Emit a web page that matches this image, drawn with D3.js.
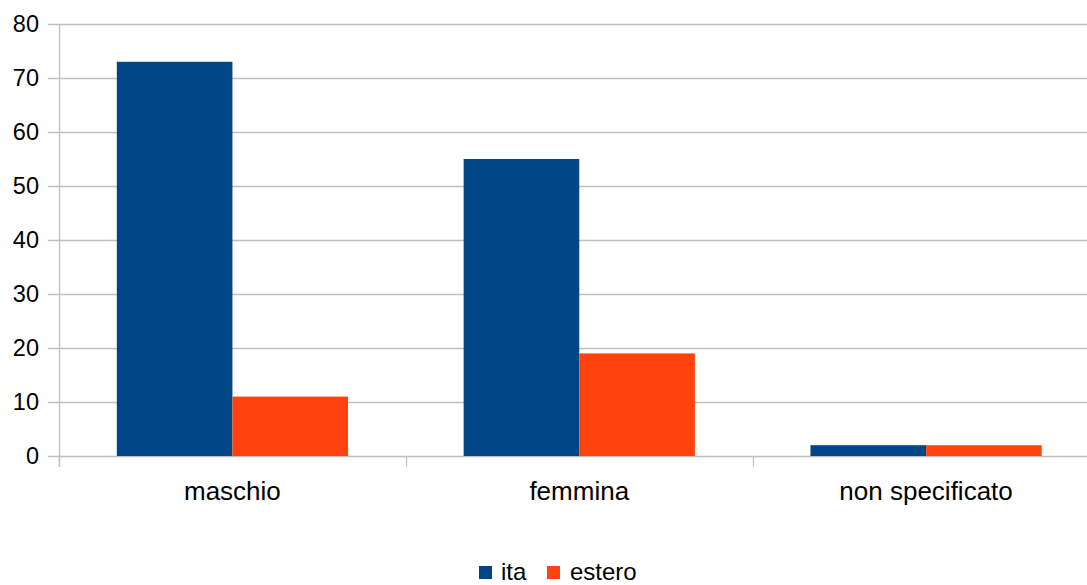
<!DOCTYPE html>
<html>
<head>
<meta charset="utf-8">
<script src="https://cdn.jsdelivr.net/npm/d3@7"></script>
<style>
  html, body { margin: 0; padding: 0; background: #fff; }
  svg { display: block; font-family: "Liberation Sans", Arial, sans-serif; }
</style>
</head>
<body>
<svg id="chart" width="1087" height="585"></svg>
<script>
// Chart data
const categories = ["maschio", "femmina", "non specificato"];
const seriesNames = ["ita", "estero"];
const itaValues = [73, 55, 2];
const esteroValues = [11, 19, 2];
const yTicks = [0, 10, 20, 30, 40, 50, 60, 70, 80];
const seriesColors = ["#004586", "#ff420e"];

const svg = d3.select("#chart");
const gridColor = "#c0c0c0";

const plotLeft = 59, plotRight = 1099.5, plotTop = 24, plotBottom = 456;

const y = d3.scaleLinear().domain([0, 80]).range([plotBottom, plotTop]);
const x0 = d3.scaleBand().domain(categories).range([plotLeft, plotRight]).paddingInner(0).paddingOuter(0);
const x1 = d3.scaleBand().domain(seriesNames).range([0, x0.bandwidth()]).paddingInner(0).paddingOuter(0.5);
const color = d3.scaleOrdinal().domain(seriesNames).range(seriesColors);

// Horizontal grid lines with short outward ticks
svg.append("g")
  .selectAll("line")
  .data(yTicks)
  .join("line")
  .attr("x1", plotLeft - 11)
  .attr("x2", 1087)
  .attr("y1", d => Math.round(y(d)) + 0.5)
  .attr("y2", d => Math.round(y(d)) + 0.5)
  .attr("stroke", gridColor)
  .attr("stroke-width", 1.3);

// Y tick labels
svg.append("g")
  .selectAll("text")
  .data(yTicks)
  .join("text")
  .attr("x", 39)
  .attr("y", d => y(d))
  .attr("dy", "0.36em")
  .attr("text-anchor", "end")
  .attr("font-size", 23.5)
  .attr("fill", "#000")
  .text(d => d);

// Vertical axis line
svg.append("line")
  .attr("x1", plotLeft + 0.5).attr("x2", plotLeft + 0.5)
  .attr("y1", plotTop).attr("y2", plotBottom + 11)
  .attr("stroke", gridColor).attr("stroke-width", 1.3);

// Category boundary ticks
const boundaries = categories.map(c => x0(c)).concat([x0(categories[categories.length - 1]) + x0.bandwidth()]);
svg.append("g")
  .selectAll("line")
  .data(boundaries)
  .join("line")
  .attr("x1", d => Math.round(d) + 0.5)
  .attr("x2", d => Math.round(d) + 0.5)
  .attr("y1", plotBottom)
  .attr("y2", plotBottom + 11)
  .attr("stroke", gridColor)
  .attr("stroke-width", 1.3);

// Bars
const rows = categories.map((c, i) => ({ category: c, values: [itaValues[i], esteroValues[i]] }));
svg.append("g")
  .selectAll("g")
  .data(rows)
  .join("g")
  .attr("transform", d => `translate(${x0(d.category)},0)`)
  .selectAll("rect")
  .data(d => seriesNames.map((s, j) => ({ series: s, value: d.values[j] })))
  .join("rect")
  .attr("x", d => x1(d.series))
  .attr("width", x1.bandwidth())
  .attr("y", d => y(d.value))
  .attr("height", d => y(0) - y(d.value))
  .attr("fill", d => color(d.series));

// Category labels
svg.append("g")
  .selectAll("text")
  .data(categories)
  .join("text")
  .attr("x", d => x0(d) + x0.bandwidth() / 2)
  .attr("y", 500)
  .attr("text-anchor", "middle")
  .attr("font-size", 26)
  .attr("fill", "#000")
  .text(d => d);

// Legend
const legendItems = [
  { name: "ita", sx: 479, tx: 501 },
  { name: "estero", sx: 547, tx: 570 }
];
const legend = svg.append("g");
legend.selectAll("rect")
  .data(legendItems)
  .join("rect")
  .attr("x", d => d.sx)
  .attr("y", 566)
  .attr("width", 13)
  .attr("height", 13)
  .attr("fill", d => color(d.name));
legend.selectAll("text")
  .data(legendItems)
  .join("text")
  .attr("x", d => d.tx)
  .attr("y", 580)
  .attr("font-size", 24)
  .attr("fill", "#000")
  .text(d => d.name);
</script>
</body>
</html>
